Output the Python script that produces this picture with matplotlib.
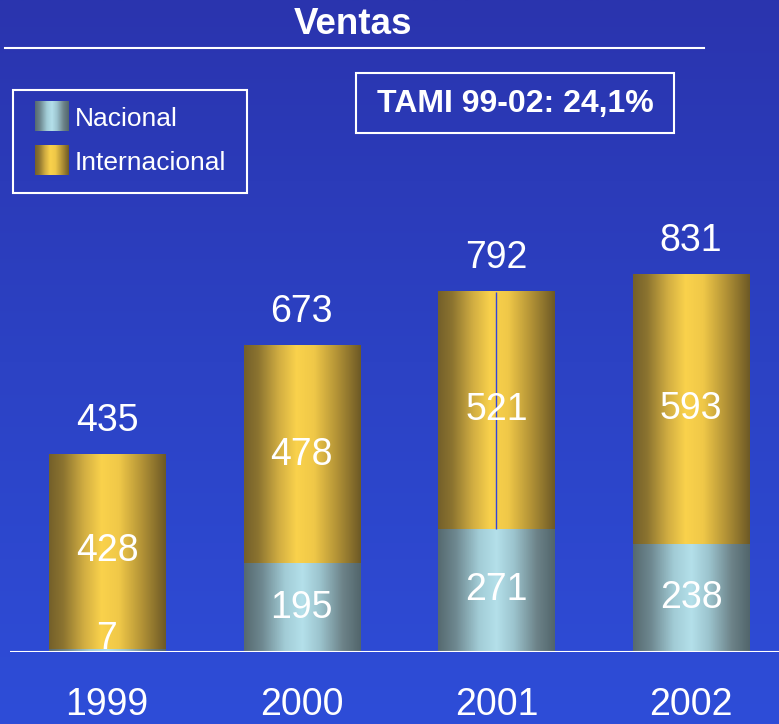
import numpy as np
import matplotlib.pyplot as plt
from matplotlib.colors import LinearSegmentedColormap
from matplotlib.patches import Rectangle

plt.rcParams['font.family'] = ['Liberation Sans', 'DejaVu Sans']

years = ['1999', '2000', '2001', '2002']
nacional = [7, 195, 271, 238]
internacional = [428, 478, 521, 593]
totales = [435, 673, 792, 831]

W, H = 779, 724
fig = plt.figure(figsize=(W / 100, H / 100), dpi=100)

def fx(px):
    return px / W

def fy(py):
    return 1 - py / H

# fondo azul degradado
bg = fig.add_axes([0, 0, 1, 1])
bg_cmap = LinearSegmentedColormap.from_list('bg', ['#2a34ae', '#2c42c4', '#2e4dd8'])
bg.imshow(np.linspace(0, 1, 256)[:, None], aspect='auto', cmap=bg_cmap,
          extent=[0, 1, 0, 1], origin='upper')
bg.set_xlim(0, 1)
bg.set_ylim(0, 1)
bg.axis('off')

oro = LinearSegmentedColormap.from_list('oro', [
    (0.0, '#74602a'), (0.12, '#8c7430'), (0.3, '#d2ae42'), (0.45, '#fad24c'),
    (0.6, '#f0c848'), (0.8, '#b29236'), (1.0, '#6e5a26')])
gris = LinearSegmentedColormap.from_list('gris', [
    (0.0, '#566a70'), (0.15, '#6e8890'), (0.35, '#a2ccd6'), (0.5, '#b4e0ea'),
    (0.65, '#9cc4ce'), (0.85, '#6c8288'), (1.0, '#52666c')])
grad = np.linspace(0, 1, 200)[None, :]

def fill_gradient(ax, bars, cmap):
    for b in bars:
        x0, y0 = b.get_x(), b.get_y()
        ax.imshow(grad, cmap=cmap, aspect='auto', zorder=2,
                  extent=[x0, x0 + b.get_width(), y0, y0 + b.get_height()])

# grafico de barras
ax = fig.add_axes([fx(10), fy(652), 1 - fx(10), 455 / H])
ax.set_facecolor('none')
x = np.arange(len(years))
ancho = 0.596
b1 = ax.bar(x, nacional, ancho, color='none', linewidth=0)
b2 = ax.bar(x, internacional, ancho, bottom=nacional, color='none', linewidth=0)
fill_gradient(ax, b1, gris)
fill_gradient(ax, b2, oro)
ax.set_xlim(-0.498, 3.451)
ax.set_ylim(0, 1000)

# linea central de la barra 2001
ax.vlines(x[2], nacional[2], totales[2], color='#3344dd', lw=1, zorder=3)

min_y = 28
for i in x:
    y_nac = max(nacional[i] / 2, min_y)
    ax.text(i, y_nac, str(nacional[i]), color='white', fontsize=27,
            ha='center', va='center', zorder=4)
    ax.text(i, nacional[i] + internacional[i] / 2, str(internacional[i]),
            color='white', fontsize=27, ha='center', va='center', zorder=4)
    ax.annotate(str(totales[i]), (i, totales[i]), xytext=(0, 24),
                textcoords='offset points', color='white', fontsize=27,
                ha='center', va='center', zorder=4, annotation_clip=False)

ax.axhline(0, color='white', lw=1.5, zorder=5)
for s in ax.spines.values():
    s.set_visible(False)
ax.set_yticks([])
ax.set_xticks(x)
ax.set_xticklabels(years, color='white', fontsize=27)
ax.tick_params(axis='x', length=0, pad=25)

# titulo
fig.text(fx(353), fy(24), 'Ventas', color='white', fontsize=26.5,
         fontweight='bold', ha='center', va='center')
fig.add_artist(plt.Line2D([fx(5), fx(704)], [fy(48), fy(48)], color='white', lw=1.5))

# recuadro TAMI
fig.add_artist(Rectangle((fx(356), fy(133)), fx(674) - fx(356), fy(73) - fy(133),
                         fill=False, edgecolor='white', lw=1.5))
fig.text(fx(515), fy(104), 'TAMI 99-02: 24,1%', color='white', fontsize=23,
         fontweight='bold', ha='center', va='center')

# leyenda
fig.add_artist(Rectangle((fx(13), fy(193)), fx(247) - fx(13), fy(90) - fy(193),
                         fill=False, edgecolor='white', lw=1.5))
for nombre, cmap, top in [('Nacional', gris, 101), ('Internacional', oro, 145)]:
    sw = fig.add_axes([fx(35), fy(top + 30), fx(34), 30 / H])
    sw.imshow(grad, cmap=cmap, aspect='auto')
    sw.axis('off')
    fig.text(fx(75), fy(top + 18), nombre, color='white', fontsize=19,
             ha='left', va='center')

fig.savefig('out.png', dpi=100)
